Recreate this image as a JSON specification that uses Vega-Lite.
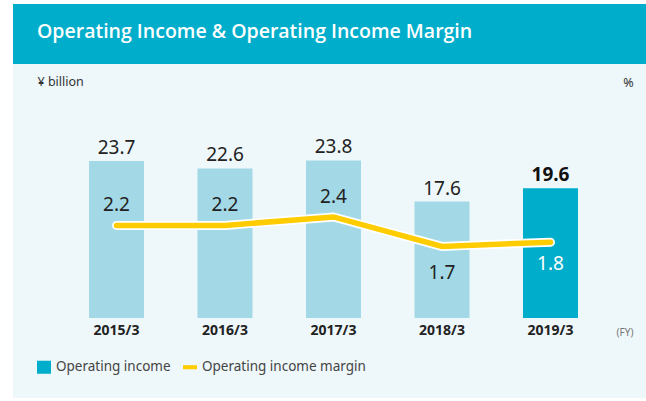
{
  "$schema": "https://vega.github.io/schema/vega-lite/v6.json",
  "padding": {"left": 13, "top": 4, "right": 0, "bottom": 3},
  "background": "white",
  "spacing": 0,
  "config": {"view": {"stroke": null}, "axis": {"minExtent": 0, "grid": false}},
  "resolve": {"legend": {"color": "independent", "shape": "independent"}},
  "datasets": {
    "fy": [
      {"year": "2015/3", "income": 23.7, "margin": 2.2},
      {"year": "2016/3", "income": 22.6, "margin": 2.2},
      {"year": "2017/3", "income": 23.8, "margin": 2.4},
      {"year": "2018/3", "income": 17.6, "margin": 1.7},
      {"year": "2019/3", "income": 19.6, "margin": 1.8}
    ]
  },
  "vconcat": [
    {
      "width": 633,
      "height": 60,
      "view": {"fill": "#00AECB", "stroke": null},
      "title": {"text": "Operating Income & Operating Income Margin", "anchor": "start", "orient": "top", "frame": "group", "offset": -47, "dx": 24, "baseline": "middle", "color": "#FFFFFF", "font": "Open Sans", "fontSize": 19.5, "fontWeight": 600},
      "data": {"values": []},
      "mark": "point"
    },
    {
      "width": 633,
      "height": 334,
      "view": {"fill": "#EEF7FA", "stroke": null},
      "data": {"name": "fy"},
      "encoding": {
        "x": {
          "field": "year", "type": "ordinal",
          "scale": {"paddingInner": 0.4931, "paddingOuter": 0.6637, "align": 0.5278},
          "axis": {"title": "(FY)", "orient": "bottom", "offset": -80, "domain": false, "ticks": false, "tickSize": 0, "labelPadding": 12, "labelBaseline": "middle", "labelAngle": 0, "labelFont": "Noto Sans", "labelFontSize": 14, "labelFontWeight": "bold", "labelColor": "#222222", "titleX": 611.5, "titleY": 14, "titleAlign": "center", "titleBaseline": "middle", "titleFont": "Noto Sans", "titleFontSize": 10, "titleFontWeight": "normal", "titleColor": "#777777"}
        }
      },
      "layer": [
        {
          "encoding": {
            "y": {"field": "income", "type": "quantitative", "scale": {"domain": [-12.08, 38.37], "nice": false, "zero": false},
              "axis": {"title": "¥ billion", "orient": "left", "labels": false, "ticks": false, "domain": false, "grid": false, "titleAngle": 0, "titleX": 24, "titleY": 17, "titleAlign": "left", "titleBaseline": "middle", "titleFont": "Noto Sans", "titleFontSize": 12.5, "titleFontWeight": "normal", "titleColor": "#333333"}}
          },
          "layer": [
            {
              "mark": {"type": "bar"},
              "encoding": {
                "y2": {"datum": 0},
                "color": {"condition": {"test": "datum.year === '2019/3'", "value": "#00AECB"}, "value": "#A3D9E6"}
              }
            },
            {
              "transform": [{"filter": "datum.year !== '2019/3'"}],
              "mark": {"type": "text", "dy": -7, "baseline": "alphabetic", "fontSize": 19, "font": "Noto Sans", "color": "#222222"},
              "encoding": {"text": {"field": "income", "type": "quantitative", "format": ".1f"}}
            },
            {
              "transform": [{"filter": "datum.year === '2019/3'"}],
              "mark": {"type": "text", "dy": -7, "baseline": "alphabetic", "fontSize": 19, "font": "Noto Sans", "fontWeight": "bold", "color": "#111111"},
              "encoding": {"text": {"field": "income", "type": "quantitative", "format": ".1f"}}
            }
          ]
        },
        {
          "encoding": {
            "y": {"field": "margin", "type": "quantitative", "scale": {"domain": [-1.9, 6.033], "nice": false, "zero": false},
              "axis": {"title": "%", "orient": "right", "labels": false, "ticks": false, "domain": false, "grid": false, "titleAngle": 0, "titleX": -18, "titleY": 18, "titleAlign": "center", "titleBaseline": "middle", "titleFont": "Noto Sans", "titleFontSize": 12.5, "titleFontWeight": "normal", "titleColor": "#333333"}}
          },
          "layer": [
            {"mark": {"type": "line", "color": "#FFFFFF", "strokeWidth": 9, "strokeCap": "round", "strokeJoin": "miter"}},
            {"mark": {"type": "line", "color": "#FFCC00", "strokeWidth": 5.5, "strokeCap": "round", "strokeJoin": "miter"}},
            {
              "transform": [{"filter": "datum.year < '2018'"}],
              "mark": {"type": "text", "dy": -14, "baseline": "alphabetic", "fontSize": 19, "font": "Noto Sans", "color": "#222222"},
              "encoding": {"text": {"field": "margin", "type": "quantitative", "format": ".1f"}}
            },
            {
              "transform": [{"filter": "datum.year === '2018/3'"}],
              "mark": {"type": "text", "dy": 33, "baseline": "alphabetic", "fontSize": 19, "font": "Noto Sans", "color": "#222222"},
              "encoding": {"text": {"field": "margin", "type": "quantitative", "format": ".1f"}}
            },
            {
              "transform": [{"filter": "datum.year === '2019/3'"}],
              "mark": {"type": "text", "dy": 28, "baseline": "alphabetic", "fontSize": 19, "font": "Noto Sans", "color": "#FFFFFF"},
              "encoding": {"text": {"field": "margin", "type": "quantitative", "format": ".1f"}}
            }
          ]
        },
        {
          "transform": [{"filter": "false"}],
          "mark": {"type": "point", "filled": true, "opacity": 1},
          "encoding": {
            "color": {"field": "series", "type": "nominal",
              "scale": {"domain": ["Operating income", "Operating income margin"], "range": ["#00AECB", "#FFCC00"]},
              "legend": {"title": null, "orient": "bottom-left", "offset": 24, "direction": "horizontal", "symbolSize": 196, "labelFont": "Noto Sans", "labelFontSize": 13.5, "labelColor": "#444444", "labelOffset": 5, "labelLimit": 400, "columnPadding": 12, "symbolStrokeWidth": 0, "symbolOpacity": 1, "padding": 0}},
            "shape": {"field": "series", "type": "nominal",
              "scale": {"domain": ["Operating income", "Operating income margin"], "range": ["M-1,-0.93H1V0.93H-1Z", "M-1,-0.29H1V0.29H-1Z"]}}
          }
        }
      ],
      "resolve": {"scale": {"y": "independent"}}
    }
  ]
}
